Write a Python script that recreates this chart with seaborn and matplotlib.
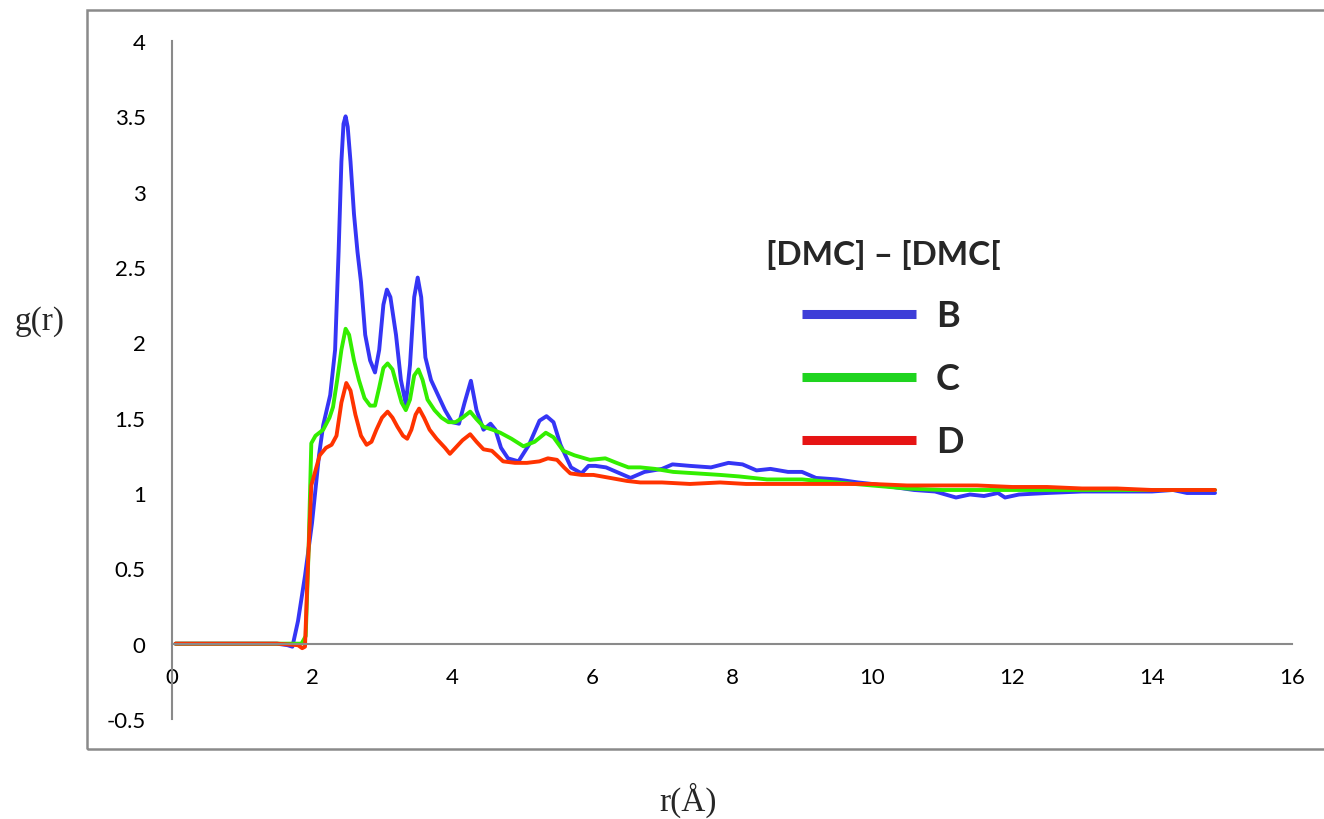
import numpy as np
import pandas as pd
import matplotlib
matplotlib.use("Agg")
import matplotlib.pyplot as plt
from matplotlib.patches import Rectangle
import seaborn as sns

# ---------------- data ----------------
r_B = [0.05, 0.5, 1.0, 1.5, 1.65, 1.72, 1.8, 1.9, 2.0, 2.1, 2.16, 2.26, 2.33, 2.38, 2.42,
       2.45, 2.48, 2.51, 2.55, 2.6, 2.65, 2.7, 2.76, 2.83, 2.9, 2.96, 3.02, 3.07, 3.12, 3.2, 3.27,
       3.34, 3.4, 3.46, 3.51, 3.56, 3.62, 3.7, 3.8, 3.9, 4.0, 4.1, 4.18, 4.27, 4.35, 4.45,
       4.55, 4.62, 4.7, 4.8, 4.95, 5.1, 5.25, 5.35, 5.45, 5.55, 5.7, 5.85, 5.95, 6.05,
       6.2, 6.35, 6.55, 6.75, 7.0, 7.15, 7.4, 7.7, 7.95, 8.15, 8.35, 8.55, 8.8, 9.0, 9.2,
       9.5, 9.8, 10.0, 10.3, 10.6, 10.9, 11.2, 11.4, 11.6, 11.8, 11.9, 12.1, 12.5, 13.0,
       13.5, 14.0, 14.3, 14.5, 14.9]
g_B = [0, 0, 0, 0, -0.01, -0.02, 0.15, 0.45, 0.8, 1.25, 1.45, 1.65, 1.95, 2.6, 3.2,
       3.45, 3.5, 3.43, 3.2, 2.85, 2.6, 2.4, 2.05, 1.88, 1.8, 1.95, 2.25, 2.35, 2.3, 2.05, 1.75,
       1.59, 1.85, 2.3, 2.43, 2.3, 1.9, 1.75, 1.65, 1.55, 1.47, 1.46, 1.6, 1.745, 1.55, 1.42,
       1.46, 1.42, 1.3, 1.23, 1.21, 1.32, 1.48, 1.51, 1.47, 1.32, 1.17, 1.13, 1.18, 1.18,
       1.17, 1.14, 1.10, 1.14, 1.16, 1.19, 1.18, 1.17, 1.2, 1.19, 1.15, 1.16, 1.14, 1.14, 1.1,
       1.09, 1.07, 1.06, 1.04, 1.02, 1.01, 0.97, 0.99, 0.98, 1.0, 0.97, 0.99, 1.0, 1.01,
       1.01, 1.01, 1.02, 1.0, 1.0]

r_C = [0.05, 0.5, 1.0, 1.5, 1.85, 1.91, 1.95, 1.99, 2.05, 2.16, 2.25, 2.3, 2.36, 2.42, 2.48,
       2.53, 2.6, 2.67, 2.75, 2.83, 2.9, 2.96, 3.02, 3.08, 3.15, 3.22, 3.28, 3.34, 3.4,
       3.46, 3.52, 3.58, 3.65, 3.75, 3.85, 3.95, 4.05, 4.15, 4.26, 4.35, 4.45, 4.58, 4.69,
       4.85, 5.02, 5.18, 5.34, 5.45, 5.59, 5.75, 5.97, 6.19, 6.35, 6.52, 6.69, 6.9, 7.16,
       7.5, 7.83, 8.1, 8.5, 9.0, 9.5, 10.0, 10.5, 11.0, 11.5, 12.0, 12.5, 13.0, 13.5, 14.0,
       14.5, 14.9]
g_C = [0, 0, 0, 0, 0, 0.05, 0.6, 1.33, 1.38, 1.42, 1.5, 1.57, 1.75, 1.95, 2.09,
       2.05, 1.88, 1.75, 1.63, 1.58, 1.58, 1.7, 1.83, 1.86, 1.82, 1.7, 1.6, 1.55, 1.62,
       1.78, 1.82, 1.75, 1.62, 1.55, 1.5, 1.47, 1.47, 1.5, 1.54, 1.49, 1.44, 1.42, 1.40,
       1.36, 1.31, 1.34, 1.40, 1.37, 1.28, 1.25, 1.22, 1.23, 1.2, 1.17, 1.17, 1.16, 1.14,
       1.13, 1.12, 1.11, 1.09, 1.09, 1.07, 1.05, 1.03, 1.02, 1.02, 1.02, 1.02, 1.02, 1.02, 1.02,
       1.02, 1.02]

r_D = [0.05, 0.5, 1.0, 1.5, 1.8, 1.86, 1.9, 1.94, 1.99, 2.05, 2.11, 2.2, 2.28, 2.35, 2.42,
       2.49, 2.55, 2.62, 2.7, 2.78, 2.85, 2.92, 3.0, 3.08, 3.15, 3.22, 3.3, 3.36, 3.42,
       3.48, 3.53, 3.6, 3.68, 3.78, 3.9, 3.97, 4.05, 4.15, 4.26, 4.35, 4.45, 4.57, 4.73,
       4.9, 5.07, 5.25, 5.37, 5.5, 5.6, 5.69, 5.85, 6.02, 6.26, 6.5, 6.69, 7.0, 7.4, 7.83,
       8.2, 8.6, 9.0, 9.5, 10.0, 10.5, 11.0, 11.5, 12.0, 12.5, 13.0, 13.5, 14.0, 14.5, 14.9]
g_D = [0, 0, 0, 0, -0.01, -0.03, -0.02, 0.5, 1.05, 1.15, 1.25, 1.3, 1.32, 1.38, 1.6,
       1.73, 1.68, 1.52, 1.38, 1.32, 1.34, 1.42, 1.5, 1.54, 1.5, 1.44, 1.38, 1.36, 1.42,
       1.52, 1.56, 1.5, 1.42, 1.36, 1.3, 1.26, 1.3, 1.35, 1.39, 1.34, 1.29, 1.28, 1.21,
       1.2, 1.2, 1.21, 1.23, 1.22, 1.17, 1.13, 1.12, 1.12, 1.10, 1.08, 1.07, 1.07, 1.06, 1.07,
       1.06, 1.06, 1.06, 1.06, 1.06, 1.05, 1.05, 1.05, 1.04, 1.04, 1.03, 1.03, 1.02, 1.02, 1.02]

series_names = ["B", "C", "D"]
x_ticks = [0, 2, 4, 6, 8, 10, 12, 14, 16]
y_ticks = [-0.5, 0, 0.5, 1, 1.5, 2, 2.5, 3, 3.5, 4]
legend_title = "[DMC] – [DMC["
x_label = "r(Å)"
y_label = "g(r)"

line_colors = {"B": "#3535f5", "C": "#33ee00", "D": "#ff3300"}
legend_colors = {"B": "#3e3ed8", "C": "#1fd41f", "D": "#e61414"}

# ---------------- plot ----------------
sns.set_theme(style="white")
plt.rcParams["font.family"] = ["Lato", "DejaVu Sans"]
plt.rcParams["axes.unicode_minus"] = False

fig = plt.figure(figsize=(13.24, 8.2), dpi=100)
W, H = 1324, 820
ax = fig.add_axes([172 / W, 1 - 720 / H, (1292 - 172) / W, (720 - 42) / H])
ax.set_facecolor("none")

frames = []
for name, rr, gg in [("B", r_B, g_B), ("C", r_C, g_C), ("D", r_D, g_D)]:
    frames.append(pd.DataFrame({"r": rr, "g": gg, "series": name}))
df = pd.concat(frames, ignore_index=True)

sns.lineplot(data=df, x="r", y="g", hue="series", palette=line_colors,
             hue_order=series_names, sort=False, estimator=None,
             linewidth=2.8, ax=ax, legend=False)
for ln in ax.get_lines():
    ln.set_solid_joinstyle("round")
    ln.set_solid_capstyle("round")

ax.set_xlim(0, 16)
ax.set_ylim(-0.5, 4)
ax.set_xticks(x_ticks)
ax.set_yticks(y_ticks)
ax.set_xticklabels([f"{t:g}" for t in x_ticks])
ax.set_yticklabels([f"{t:g}" for t in y_ticks])
ax.tick_params(axis="both", length=0, labelsize=16, colors="black")
ax.tick_params(axis="x", pad=17)
ax.tick_params(axis="y", pad=19)

for s in ["top", "right"]:
    ax.spines[s].set_visible(False)
ax.spines["left"].set_color("#8a8a8a")
ax.spines["left"].set_linewidth(1.5)
ax.spines["bottom"].set_position(("data", 0))
ax.spines["bottom"].set_color("#8a8a8a")
ax.spines["bottom"].set_linewidth(1.5)
ax.grid(False)
ax.set_xlabel("")
ax.set_ylabel("")

# chart area border (Excel style)
fig.add_artist(Rectangle((87 / W, 1 - 750 / H), (W + 20 - 87) / W, (750 - 11) / H,
                         transform=fig.transFigure, fill=False,
                         edgecolor="#8a8a8a", linewidth=1.8, clip_on=False))

# axis titles
fig.text(40 / W, 1 - 322 / H, y_label, family="Liberation Serif", fontsize=24,
         ha="center", va="center")
fig.text(688 / W, 1 - 800 / H, x_label, family="Liberation Serif", fontsize=24,
         ha="center", va="center")

# legend
handles = ax.get_lines()[:3]
leg = ax.legend(handles, series_names, title=legend_title, frameon=False,
                loc="upper left", bbox_to_anchor=(733 / W, 1 - 208 / H),
                bbox_transform=fig.transFigure,
                prop={"weight": "bold", "size": 26},
                title_fontproperties={"weight": "bold", "size": 24},
                handlelength=3.14, handletextpad=0.55, labelspacing=0.83)
for h, name in zip(leg.legend_handles, series_names):
    h.set_color(legend_colors[name])
    h.set_linewidth(6.5)
    h.set_solid_capstyle("butt")

fig.savefig("out.png", dpi=100)
